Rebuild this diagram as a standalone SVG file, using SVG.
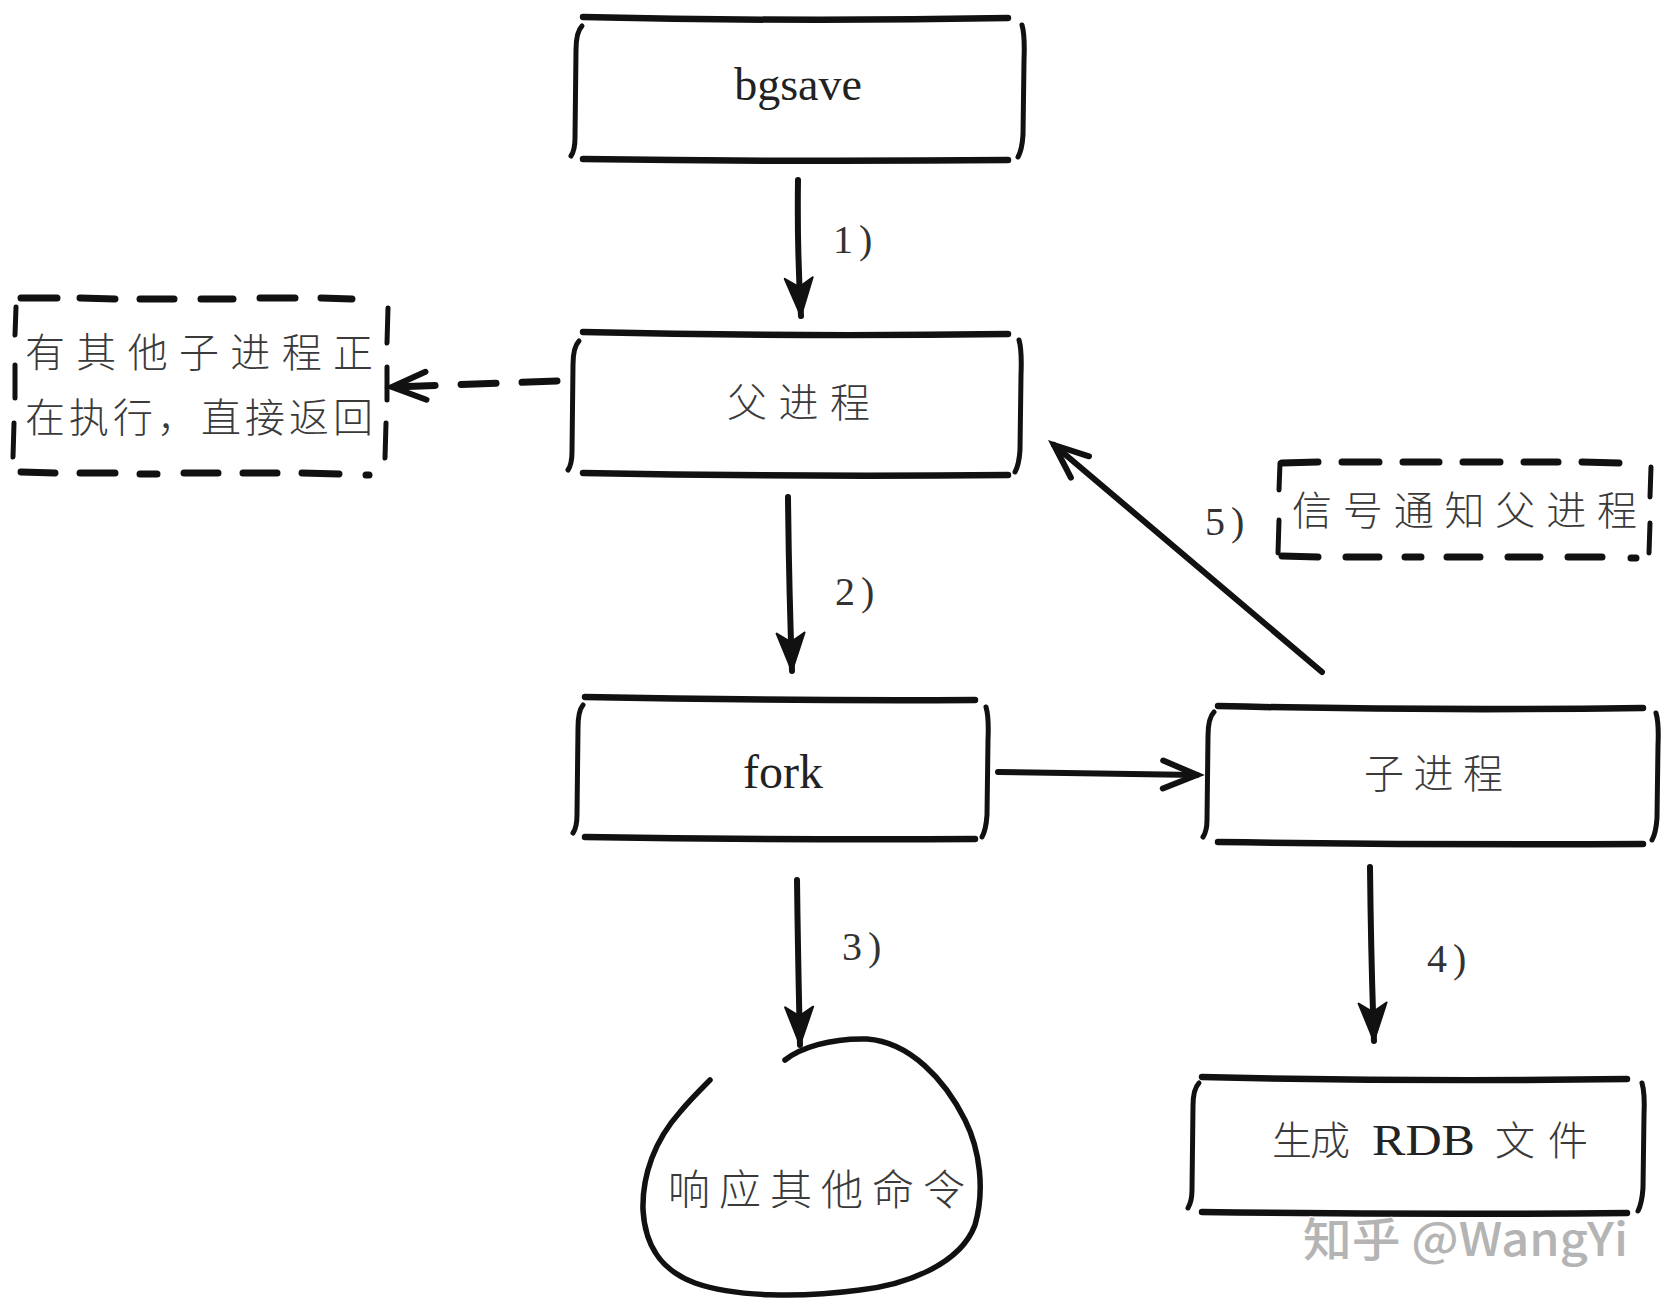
<svg xmlns="http://www.w3.org/2000/svg" width="1672" height="1312" viewBox="0 0 1672 1312">
<style>
.bg{fill:#ffffff}
.hl{fill:none;stroke:#111;stroke-width:6.5;stroke-linecap:round}
.vl{fill:none;stroke:#111;stroke-width:5;stroke-linecap:round}
.ds{fill:none;stroke:#111;stroke-width:7;stroke-linecap:round}
.dv{fill:none;stroke:#111;stroke-width:5;stroke-linecap:round}
.ar{fill:none;stroke:#111;stroke-width:6;stroke-linecap:round}
.lat{font-family:"Liberation Serif","DejaVu Serif",serif;fill:#222}
.cjk{font-family:"Noto Sans CJK SC","Noto Sans",sans-serif;font-weight:300;fill:#3a3a3a}
.lbl{font-family:"Liberation Serif","DejaVu Serif",serif;font-size:40px;fill:#333;letter-spacing:6px}
.wm{font-family:"Noto Sans CJK SC","Noto Sans",sans-serif;font-weight:500;font-size:46px;fill:#b4b4b4;stroke:#ffffff;stroke-width:1.5;paint-order:stroke}
</style>
<defs>
<marker id="head" markerUnits="userSpaceOnUse" markerWidth="44" markerHeight="34" refX="38" refY="15" orient="auto" overflow="visible">
<path d="M38,15 L0,1 L9,15 L0,29 Z" fill="#111" stroke="#111" stroke-width="2" stroke-linejoin="round"/>
</marker>
<marker id="chev" markerUnits="userSpaceOnUse" markerWidth="44" markerHeight="36" refX="36" refY="16" orient="auto" overflow="visible">
<path d="M2,2 L36,16 L2,30" fill="none" stroke="#111" stroke-width="6" stroke-linecap="round" stroke-linejoin="miter"/>
</marker>
</defs>
<rect class="bg" x="0" y="0" width="1672" height="1312"/>

<g id="connectors">
<path class="ar" d="M798,180 Q797,250 801,316" marker-end="url(#head)"/>
<path class="ar" d="M788,497 Q789,590 792,671" marker-end="url(#head)"/>
<path class="ar" d="M797,880 Q798,960 800,1045" marker-end="url(#head)"/>
<path class="ar" d="M1370,867 Q1371,960 1374,1041" marker-end="url(#head)"/>
<path class="ar" d="M998,772 L1197,775" stroke-width="6.5" marker-end="url(#chev)"/>
<path class="ar" d="M1322,672 L1054,445" marker-end="url(#chev)"/>
<path class="ds" d="M557,381 L392,387" stroke-dasharray="35 26" marker-end="url(#chev)"/>
<text class="lbl" x="833" y="253">1)</text>
<text class="lbl" x="835" y="605">2)</text>
<text class="lbl" x="842" y="960">3)</text>
<text class="lbl" x="1427" y="972">4)</text>
<text class="lbl" x="1205" y="535">5)</text>
</g>

<g id="node-bgsave">
<path class="hl" d="M583,17 Q795,22 1008,18"/>
<path class="hl" d="M583,159 Q795,162 1008,160"/>
<path class="vl" d="M582,26 Q576,32 576,50 L575,138 Q575,150 571,156"/>
<path class="vl" d="M1022,25 Q1025,35 1024,60 L1023,135 Q1022,150 1018,157"/>
<text class="lat" x="798" y="100" font-size="46" text-anchor="middle">bgsave</text>
</g>

<g id="node-parent">
<path class="hl" d="M583,332 Q795,337 1008,334"/>
<path class="hl" d="M583,473 Q795,477 1008,475"/>
<path class="vl" d="M579,341 Q573,347 573,365 L572,452 Q572,464 568,470"/>
<path class="vl" d="M1019,340 Q1022,350 1021,375 L1020,450 Q1019,465 1015,472"/>
<text class="cjk" x="727" y="417" font-size="40" textLength="143" lengthAdjust="spacing">父进程</text>
</g>

<g id="node-other">
<path class="ds" d="M21,298 L57,298 M80,298 L115,299 M140,299 L174,299 M201,299 L233,299 M260,298 L295,298 M321,298 L352,299"/>
<path class="ds" d="M21,472 L55,473 M80,473 L115,473 M140,474 L157,474 M184,473 L218,473 M243,473 L277,473 M302,473 L339,474 M366,475 L369,475"/>
<path class="dv" d="M16,307 L15,335 M15,365 L15,398 M14,423 L13,457"/>
<path class="dv" d="M388,308 L387,343 M387,367 L387,400 M386,423 L385,458"/>
<text class="cjk" x="25" y="367" font-size="40" textLength="348" lengthAdjust="spacing">有其他子进程正</text>
<text class="cjk" x="25" y="432" font-size="40" textLength="348" lengthAdjust="spacing">在执行，直接返回</text>
</g>

<g id="node-signal">
<path class="ds" d="M1282,463 L1318,462 M1342,462 L1379,462 M1403,462 L1439,462 M1463,462 L1500,462 M1524,462 L1558,462 M1582,462 L1619,463"/>
<path class="ds" d="M1282,556 L1318,557 M1346,557 L1379,557 M1405,557 L1421,557 M1447,557 L1480,557 M1508,557 L1540,557 M1568,557 L1602,557 M1631,558 L1636,558"/>
<path class="dv" d="M1280,463 L1279,490 M1279,520 L1278,553"/>
<path class="dv" d="M1651,467 L1650,497 M1650,523 L1649,553"/>
<text class="cjk" x="1292" y="525" font-size="40" textLength="345" lengthAdjust="spacing">信号通知父进程</text>
</g>

<g id="node-fork">
<path class="hl" d="M585,697 Q780,701 975,700"/>
<path class="hl" d="M585,837 Q780,840 975,839"/>
<path class="vl" d="M583,705 Q578,711 578,728 L577,815 Q577,827 573,833"/>
<path class="vl" d="M986,707 Q989,717 988,740 L987,815 Q986,830 982,837"/>
<text class="lat" x="783" y="788" font-size="48" text-anchor="middle">fork</text>
</g>

<g id="node-child">
<path class="hl" d="M1218,706 Q1430,711 1643,708"/>
<path class="hl" d="M1218,842 Q1430,845 1643,844"/>
<path class="vl" d="M1214,712 Q1208,718 1208,736 L1207,820 Q1207,831 1203,837"/>
<path class="vl" d="M1656,713 Q1659,723 1658,745 L1657,818 Q1656,833 1652,840"/>
<text class="cjk" x="1364" y="788" font-size="40" textLength="139" lengthAdjust="spacing">子进程</text>
</g>

<g id="node-respond">
<path fill="none" stroke="#111" stroke-width="5.5" stroke-linecap="round" d="M785,1060 C800,1048 830,1038 867,1039 C910,1042 945,1080 965,1120 C980,1150 985,1190 975,1225 C960,1265 905,1285 860,1290 C800,1298 735,1297 695,1283 C660,1270 645,1245 643,1210 C642,1175 655,1140 680,1112 C690,1100 700,1090 710,1080"/>
<text class="cjk" x="668" y="1205" font-size="42" textLength="297" lengthAdjust="spacing">响应其他命令</text>
</g>

<g id="node-rdb">
<path class="hl" d="M1202,1077 Q1415,1082 1627,1079"/>
<path class="hl" d="M1202,1212 Q1415,1215 1627,1213"/>
<path class="vl" d="M1199,1083 Q1193,1089 1193,1106 L1192,1190 Q1192,1201 1188,1208"/>
<path class="vl" d="M1642,1083 Q1645,1093 1644,1115 L1643,1188 Q1642,1203 1638,1211"/>
<text class="cjk" font-size="40" y="1155"><tspan x="1272">生</tspan><tspan x="1310">成</tspan><tspan x="1495">文</tspan><tspan x="1548">件</tspan></text>
<text class="lat" x="1372" y="1155" font-size="44" textLength="103" lengthAdjust="spacingAndGlyphs">RDB</text>
</g>

<text class="wm" x="1303" y="1256" textLength="325" lengthAdjust="spacingAndGlyphs">知乎 @WangYi</text>
</svg>
